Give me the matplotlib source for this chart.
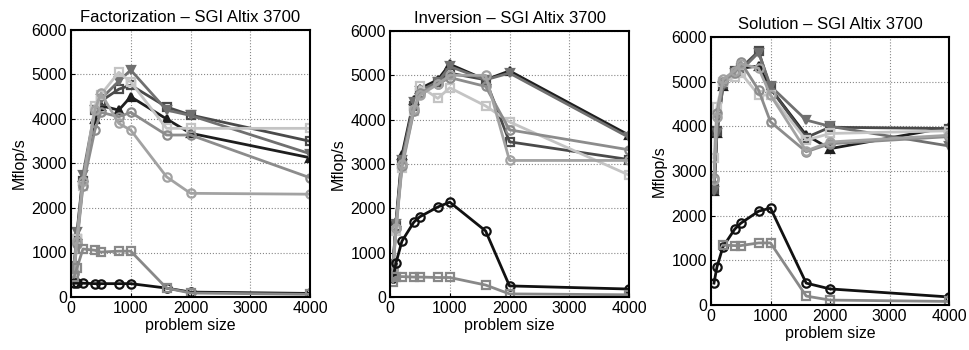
import numpy as np
import matplotlib
matplotlib.use("Agg")
import matplotlib.pyplot as plt

plt.rcParams['font.family'] = ['Liberation Sans', 'DejaVu Sans']

sizes = [50, 100, 200, 400, 500, 800, 1000, 1600, 2000, 4000]
titles = ["Factorization – SGI Altix 3700", "Inversion – SGI Altix 3700", "Solution – SGI Altix 3700"]

fact_A = [600, 1400, 2700, 4000, 4300, 4200, 4500, 4000, 3680, 3130]
fact_B = [650, 1300, 2600, 4200, 4400, 4670, 4760, 4270, 4090, 3500]
fact_C = [700, 1450, 2750, 4200, 4450, 4850, 5100, 4200, 4080, 3220]
fact_D = [600, 1300, 2500, 4300, 4550, 5050, 4830, 3790, 3790, 3790]
fact_E = [550, 1200, 2500, 3750, 4150, 4050, 4150, 3640, 3640, 2680]
fact_F = [550, 1250, 2600, 4200, 4580, 3900, 3750, 2700, 2330, 2310]
fact_G = [310, 310, 310, 300, 300, 300, 300, 200, 110, 80]
fact_H = [450, 650, 1080, 1050, 1010, 1030, 1030, 200, 90, 60]

inv_A = [700, 1700, 3200, 4450, 4700, 4900, 5250, 4900, 5100, 3650]
inv_B = [650, 1600, 3000, 4300, 4600, 4850, 5050, 4900, 3500, 3100]
inv_C = [750, 1650, 3100, 4400, 4650, 4850, 5200, 4900, 5050, 3600]
inv_D = [600, 1500, 2900, 4200, 4750, 4480, 4720, 4310, 3950, 2750]
inv_E = [650, 1550, 2950, 4200, 4600, 4800, 4950, 4750, 3770, 3320]
inv_F = [600, 1550, 3000, 4250, 4550, 4800, 5000, 5000, 3080, 3080]
inv_G = [430, 770, 1260, 1690, 1810, 2030, 2140, 1490, 250, 180]
inv_H = [340, 450, 460, 450, 450, 440, 440, 270, 70, 50]

sol_A = [2550, 3850, 4900, 5250, 5300, 5350, 4850, 3800, 3500, 3980]
sol_B = [2600, 3900, 4950, 5250, 5300, 5680, 4850, 3750, 3980, 3950]
sol_C = [2550, 3850, 4900, 5200, 5250, 5650, 4900, 4140, 4000, 3560]
sol_D = [3300, 4440, 5000, 5100, 5200, 4700, 4700, 3690, 3840, 3900]
sol_E = [2840, 4290, 5000, 5200, 5440, 4810, 4100, 3430, 3610, 3770]
sol_F = [2800, 4200, 5050, 5250, 5400, 5300, 4700, 3450, 3650, 3800]
sol_G = [490, 850, 1300, 1700, 1830, 2100, 2170, 490, 360, 180]
sol_H = [np.nan, np.nan, 1340, 1330, 1330, 1390, 1390, 200, 110, 80]

panels = [
    [fact_A, fact_B, fact_C, fact_D, fact_E, fact_F, fact_G, fact_H],
    [inv_A, inv_B, inv_C, inv_D, inv_E, inv_F, inv_G, inv_H],
    [sol_A, sol_B, sol_C, sol_D, sol_E, sol_F, sol_G, sol_H],
]

styles = [
    dict(color='#1e1e1e', marker='^', mfc='#1e1e1e'),
    dict(color='#4a4a4a', marker='s', mfc='none'),
    dict(color='#707070', marker='v', mfc='#707070'),
    dict(color='#c4c4c4', marker='s', mfc='none'),
    dict(color='#8c8c8c', marker='o', mfc='none'),
    dict(color='#a2a2a2', marker='o', mfc='none'),
    dict(color='#111111', marker='o', mfc='none'),
    dict(color='#888888', marker='s', mfc='none'),
]

fig = plt.figure(figsize=(9.69, 3.5), dpi=100)
rects = [
    [71/969, 53/350, 239/969, 267/350],
    [390/969, 53/350, 239/969, 266/350],
    [711/969, 45/350, 238/969, 268/350],
]

for i, (rect, data) in enumerate(zip(rects, panels)):
    ax = fig.add_axes(rect)
    for series, st in zip(data, styles):
        ax.plot(sizes, series, color=st['color'], marker=st['marker'],
                markerfacecolor=st['mfc'], markeredgecolor=st['color'],
                markersize=6, markeredgewidth=1.6, linewidth=2)
    ax.set_xlim(0, 4000)
    ax.set_ylim(0, 6000)
    ax.set_xticks([0, 1000, 2000, 3000, 4000])
    ax.set_yticks([0, 1000, 2000, 3000, 4000, 5000, 6000])
    ax.grid(True, linestyle=':', color='#888888', linewidth=0.8)
    ax.set_axisbelow(True)
    ax.tick_params(direction='in', labelsize=11.5, length=3, pad=3)
    for s in ax.spines.values():
        s.set_linewidth(1.5)
    ax.set_title(titles[i], fontsize=12, pad=6)
    ax.set_xlabel("problem size", fontsize=11.5, labelpad=1)
    ax.set_ylabel("Mflop/s", fontsize=11.5, labelpad=3)

fig.savefig("out.png", dpi=100)
